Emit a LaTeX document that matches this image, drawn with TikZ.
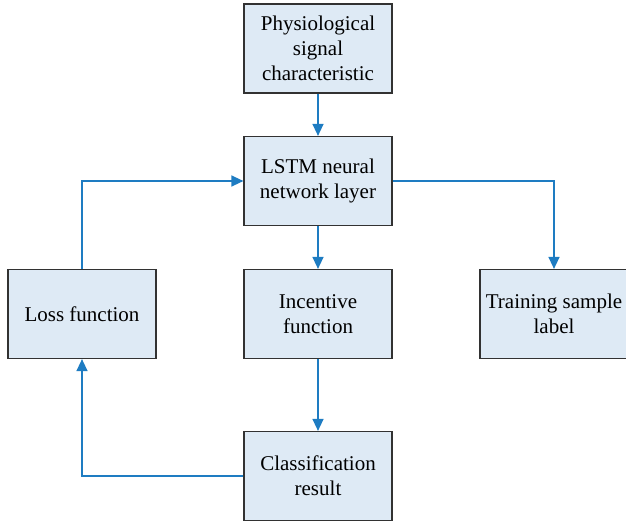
\documentclass[tikz,border=0pt]{standalone}
\usepackage{fontspec}
\setmainfont{Liberation Serif}
\usepackage{tikz}
\usetikzlibrary{arrows.meta}
\definecolor{boxblue}{RGB}{222,234,245}
\definecolor{lineblue}{RGB}{30,124,194}
\definecolor{boxedge}{RGB}{50,50,50}
\tikzset{
  block/.style={rectangle,draw=boxedge,line width=1.2pt,fill=boxblue,
    minimum width=148pt,minimum height=89pt,align=center,
    font=\fontsize{21}{25}\selectfont,inner sep=2pt},
  flow/.style={draw=lineblue,line width=1.4pt,-{Triangle[length=12pt,width=11pt]}}
}

\begin{document}
\begin{tikzpicture}[x=1pt,y=-1pt]
  \useasboundingbox (0,0) rectangle (626,525);

  \node[block] (phys) at (318,48.5) {Physiological\\signal\\characteristic};
  \node[block] (lstm) at (318,181) {LSTM neural\\network layer};
  \node[block] (loss) at (82,314) {Loss function};
  \node[block] (inc) at (318,314) {Incentive\\function};
  \node[block] (train) at (554,314) {Training sample\\label};
  \node[block] (cls) at (318,476) {Classification\\result};

  \foreach \from/\to in {phys/lstm,lstm/inc,inc/cls}
    \draw[flow] (\from) -- (\to);
  \draw[flow] (lstm) -| (train);
  \draw[flow] (cls) -| (loss);
  \draw[flow] (loss) |- (lstm);
\end{tikzpicture}
\end{document}
